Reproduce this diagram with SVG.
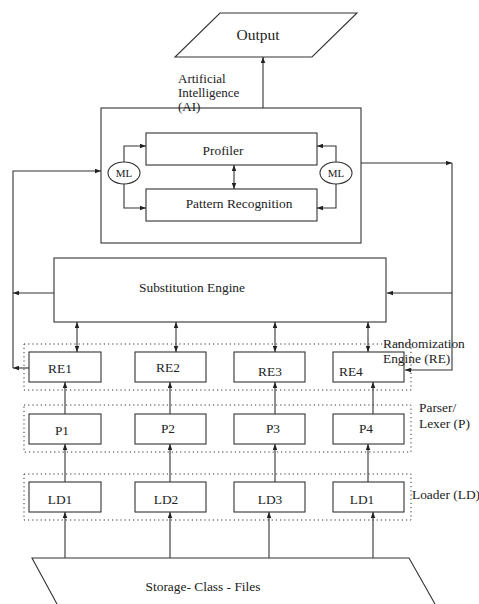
<svg xmlns="http://www.w3.org/2000/svg" width="479" height="604" viewBox="0 0 479 604" font-family="'Liberation Serif', 'DejaVu Serif', 'Times New Roman', serif">
<style>
.b{fill:#fff;stroke:#333;stroke-width:1.1}
.d{fill:none;stroke:#333;stroke-width:1;stroke-dasharray:1.2 3}
.c{fill:none;stroke:#333;stroke-width:1.1}
text{font-family:'Liberation Serif','DejaVu Serif','Times New Roman',serif;fill:#222;font-size:13.4px}
.m{text-anchor:middle}
</style>
<defs>
<marker id="a" viewBox="0 0 8 6" refX="8" refY="3" markerWidth="6" markerHeight="5" markerUnits="userSpaceOnUse" orient="auto-start-reverse"><path d="M0,0L8,3L0,6z" fill="#222"/></marker>
</defs>
<rect width="479" height="604" fill="#fff"/>
<g id="output"><path class="b" d="M220,13H357L312,57H175z"/><text class="m" x="258" y="40" style="font-size:15.5px">Output</text></g>
<g id="ai"><rect class="b" x="101" y="108" width="260" height="135" style="fill:none"/></g>
<g id="ai-label"><text x="178" y="83" style="font-size:13px">Artificial</text><text x="178" y="97" style="font-size:13px">Intelligence</text><text x="178" y="111" style="font-size:13px">(AI)</text></g>
<g id="profiler"><rect class="b" x="146" y="133" width="171" height="32"/><text class="m" x="223" y="155">Profiler</text></g>
<g id="pattern"><rect class="b" x="146" y="189" width="171" height="32"/><text class="m" x="239" y="208">Pattern Recognition</text></g>
<g id="ml-left"><ellipse class="b" cx="124" cy="173" rx="16" ry="11"/><text class="m" x="124" y="177" style="font-size:11px">ML</text></g>
<g id="ml-right"><ellipse class="b" cx="336" cy="173" rx="16" ry="11"/><text class="m" x="336" y="177" style="font-size:11px">ML</text></g>
<g id="substitution"><rect class="b" x="54" y="258" width="332" height="64"/><text class="m" x="192" y="292">Substitution Engine</text></g>
<g id="re1"><rect class="b" x="29" y="352" width="72" height="30"/><text class="m" x="60" y="373">RE1</text></g>
<g id="re2"><rect class="b" x="135" y="352" width="71" height="30"/><text class="m" x="168" y="372">RE2</text></g>
<g id="re3"><rect class="b" x="234" y="352" width="71" height="30"/><text class="m" x="270" y="376">RE3</text></g>
<g id="re4"><rect class="b" x="333" y="352" width="71" height="30"/><text x="339" y="376">RE4</text></g>
<g id="re-group"><rect class="d" x="24" y="344" width="387" height="46"/><text x="383" y="348">Randomization</text><text x="383" y="363">Engine (RE)</text></g>
<g id="p1"><rect class="b" x="29" y="414" width="72" height="30"/><text class="m" x="62" y="435">P1</text></g>
<g id="p2"><rect class="b" x="135" y="414" width="71" height="30"/><text class="m" x="168" y="433">P2</text></g>
<g id="p3"><rect class="b" x="234" y="414" width="71" height="30"/><text class="m" x="273" y="433">P3</text></g>
<g id="p4"><rect class="b" x="333" y="414" width="71" height="30"/><text class="m" x="366" y="433">P4</text></g>
<g id="p-group"><rect class="d" x="24" y="405" width="387" height="47"/><text x="419" y="412">Parser/</text><text x="419" y="428">Lexer (P)</text></g>
<g id="ld1"><rect class="b" x="29" y="482" width="72" height="30"/><text class="m" x="60" y="504">LD1</text></g>
<g id="ld2"><rect class="b" x="135" y="482" width="71" height="30"/><text class="m" x="166" y="504">LD2</text></g>
<g id="ld3"><rect class="b" x="234" y="482" width="71" height="30"/><text class="m" x="270" y="504">LD3</text></g>
<g id="ld4"><rect class="b" x="333" y="482" width="71" height="30"/><text class="m" x="362" y="504">LD1</text></g>
<g id="ld-group"><rect class="d" x="24" y="474" width="387" height="46"/><text x="412" y="499">Loader (LD)</text></g>
<g id="storage"><path class="c" d="M57,604L32,558H409L435,604"/><text class="m" x="203" y="591">Storage- Class - Files</text></g>
<g id="connectors" class="c">
<path d="M263,108V57" marker-end="url(#a)"/>
<path d="M234,165V189" marker-start="url(#a)" marker-end="url(#a)"/>
<path d="M124,162V146H146" marker-end="url(#a)"/>
<path d="M124,184V208H146" marker-end="url(#a)"/>
<path d="M336,162V146H317" marker-end="url(#a)"/>
<path d="M336,184V208H317" marker-end="url(#a)"/>
<path d="M13,368V171H101" marker-end="url(#a)"/>
<path d="M54,293H13" marker-end="url(#a)"/>
<path d="M29,368H13" marker-end="url(#a)"/>
<path d="M361,163H452" marker-end="url(#a)"/>
<path d="M452,163V370H405" marker-end="url(#a)"/>
<path d="M452,293H387" marker-end="url(#a)"/>
<path d="M77,322V352" marker-start="url(#a)" marker-end="url(#a)"/>
<path d="M176,322V352" marker-start="url(#a)" marker-end="url(#a)"/>
<path d="M275,322V352" marker-start="url(#a)" marker-end="url(#a)"/>
<path d="M368,322V352" marker-start="url(#a)" marker-end="url(#a)"/>
<path d="M65,414V382" marker-end="url(#a)"/>
<path d="M170,414V382" marker-end="url(#a)"/>
<path d="M275,414V382" marker-end="url(#a)"/>
<path d="M373,414V382" marker-end="url(#a)"/>
<path d="M65,482V444" marker-end="url(#a)"/>
<path d="M170,482V444" marker-end="url(#a)"/>
<path d="M275,482V444" marker-end="url(#a)"/>
<path d="M368,482V444" marker-end="url(#a)"/>
<path d="M65,558V512" marker-end="url(#a)"/>
<path d="M170,558V512" marker-end="url(#a)"/>
<path d="M269,558V512" marker-end="url(#a)"/>
<path d="M373,558V512" marker-end="url(#a)"/>
</g>
</svg>
